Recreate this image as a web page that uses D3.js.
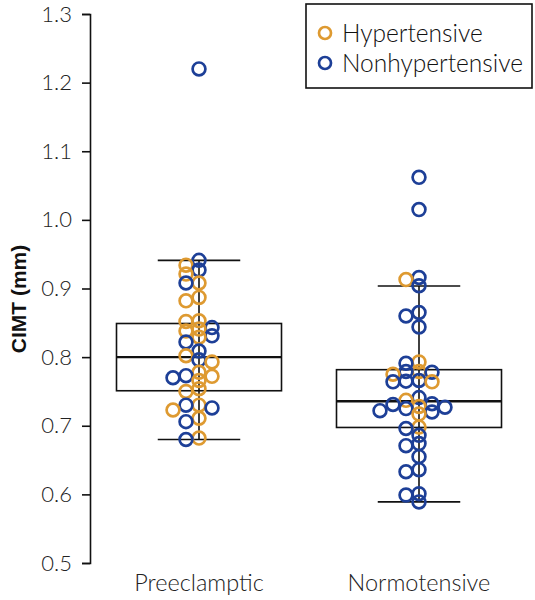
<!DOCTYPE html>
<html>
<head>
<meta charset="utf-8">
<script src="https://cdn.jsdelivr.net/npm/d3@7"></script>
<style>
  html, body { margin: 0; padding: 0; background: #fff; }
  svg { display: block; }
</style>
</head>
<body>
<svg id="chart" width="535" height="600"></svg>
<script>
// ---- data ----
const categories = ["Preeclamptic", "Normotensive"];
const seriesNames = ["Hypertensive", "Nonhypertensive"];
const yTicks = [0.5, 0.6, 0.7, 0.8, 0.9, 1.0, 1.1, 1.2, 1.3];

const preeclampticHypertensive = [0.934, 0.921, 0.908, 0.887, 0.882, 0.853, 0.852, 0.841, 0.838, 0.829, 0.802, 0.793, 0.778, 0.772, 0.766, 0.754, 0.750, 0.730, 0.723, 0.711, 0.682];
const preeclampticNonhypertensive = [1.220, 0.941, 0.927, 0.908, 0.843, 0.831, 0.822, 0.809, 0.796, 0.773, 0.770, 0.730, 0.726, 0.706, 0.680];
const normotensiveHypertensive = [0.913, 0.793, 0.779, 0.775, 0.764, 0.737, 0.728, 0.717, 0.698];
const normotensiveNonhypertensive = [1.062, 1.015, 0.916, 0.904, 0.865, 0.860, 0.844, 0.791, 0.779, 0.778, 0.766, 0.765, 0.764, 0.741, 0.732, 0.731, 0.727, 0.725, 0.722, 0.720, 0.696, 0.686, 0.674, 0.671, 0.655, 0.636, 0.633, 0.601, 0.599, 0.589];

// box statistics per category: [whiskerLow, Q1, median, Q3, whiskerHigh]
const boxPreeclamptic = [0.680, 0.751, 0.800, 0.849, 0.941];
const boxNormotensive = [0.589, 0.6975, 0.7357, 0.7817, 0.9036];

// ---- build ----
const colors = { "Hypertensive": "#DE9A31", "Nonhypertensive": "#1D3F97" };
const groups = [
  { cat: categories[0], box: boxPreeclamptic, pts: [
      ...preeclampticHypertensive.map(v => ({ v, s: seriesNames[0] })),
      ...preeclampticNonhypertensive.map(v => ({ v, s: seriesNames[1] }))] },
  { cat: categories[1], box: boxNormotensive, pts: [
      ...normotensiveHypertensive.map(v => ({ v, s: seriesNames[0] })),
      ...normotensiveNonhypertensive.map(v => ({ v, s: seriesNames[1] }))] }
];

const svg = d3.select("#chart");
const x = d3.scaleBand().domain(categories).range([89, 529]).paddingInner(0).paddingOuter(0);
const y = d3.scaleLinear().domain([0.5, 1.3]).range([563, 14]);

const font = "Lato, 'Open Sans', 'DejaVu Sans', sans-serif";

// y axis
const yAxis = d3.axisLeft(y).tickValues(yTicks).tickFormat(d3.format(".1f")).tickSizeOuter(0).tickSize(8).tickPadding(10);
const ga = svg.append("g").attr("transform", "translate(90,0)").call(yAxis);
ga.select(".domain").attr("stroke", "#111").attr("stroke-width", 1.6);
ga.selectAll(".tick line").attr("stroke", "#111").attr("stroke-width", 1.6);
ga.selectAll(".tick text").attr("font-family", font).attr("font-weight", 300)
  .attr("font-size", 22).attr("fill", "#222");

// y title
svg.append("text")
  .attr("transform", "translate(26,299) rotate(-90)")
  .attr("text-anchor", "middle")
  .attr("font-family", "'Liberation Sans', Arial, sans-serif")
  .attr("font-weight", "bold").attr("font-size", 21).attr("fill", "#111")
  .text("CIMT (mm)");

// x labels
svg.selectAll("text.xl").data(categories).enter().append("text")
  .attr("class", "xl")
  .attr("x", d => x(d) + x.bandwidth() / 2).attr("y", 591)
  .attr("text-anchor", "middle")
  .attr("font-family", font).attr("font-weight", 300).attr("font-size", 23.5).attr("fill", "#222")
  .text(d => d);

// boxes
const boxW = x.bandwidth() * 0.75;
const capW = x.bandwidth() * 0.375;
groups.forEach(g => {
  const cx = x(g.cat) + x.bandwidth() / 2;
  const [lo, q1, med, q3, hi] = g.box;
  const bg = svg.append("g").attr("stroke", "#111").attr("fill", "none");
  bg.append("line").attr("x1", cx).attr("x2", cx).attr("y1", y(hi)).attr("y2", y(lo)).attr("stroke-width", 1.6);
  bg.append("line").attr("x1", cx - capW / 2).attr("x2", cx + capW / 2).attr("y1", y(hi)).attr("y2", y(hi)).attr("stroke-width", 1.6);
  bg.append("line").attr("x1", cx - capW / 2).attr("x2", cx + capW / 2).attr("y1", y(lo)).attr("y2", y(lo)).attr("stroke-width", 1.6);
  bg.append("rect").attr("x", cx - boxW / 2).attr("y", y(q3)).attr("width", boxW).attr("height", y(q1) - y(q3)).attr("stroke-width", 1.6);
  bg.append("line").attr("x1", cx - boxW / 2).attr("x2", cx + boxW / 2).attr("y1", y(med)).attr("y2", y(med)).attr("stroke-width", 2.4);
});

// beeswarm placement
const step = 13, minGap = 7.5;
const slotOrder = [0, -1, 1, -2, 2, -3, 3, -4, 4];
groups.forEach(g => {
  const cx = x(g.cat) + x.bandwidth() / 2;
  const pts = g.pts.slice().sort((a, b) => b.v - a.v);
  const placed = [];
  pts.forEach(p => {
    const py = y(p.v);
    let slot = 0;
    for (const s of slotOrder) {
      if (!placed.some(q => q.slot === s && Math.abs(q.py - py) < minGap)) { slot = s; break; }
    }
    placed.push({ slot, py, p });
    p.px = cx + slot * step; p.py = py;
  });
  svg.append("g").selectAll("circle").data(pts).enter().append("circle")
    .attr("cx", d => d.px).attr("cy", d => d.py).attr("r", 6.4)
    .attr("fill", "none").attr("stroke", d => colors[d.s]).attr("stroke-width", 2.7);
});

// legend
const lg = svg.append("g");
lg.append("rect").attr("x", 306).attr("y", 4).attr("width", 226).attr("height", 84)
  .attr("fill", "#fff").attr("stroke", "#111").attr("stroke-width", 1.6);
seriesNames.forEach((s, i) => {
  lg.append("circle").attr("cx", 325).attr("cy", 33 + i * 30).attr("r", 6)
    .attr("fill", "none").attr("stroke", colors[s]).attr("stroke-width", 2.7);
  lg.append("text").attr("x", 342).attr("y", 33 + i * 30).attr("dy", "0.35em")
    .attr("font-family", font).attr("font-weight", 300).attr("font-size", 24.5).attr("fill", "#111")
    .text(s);
});
</script>
</body>
</html>
